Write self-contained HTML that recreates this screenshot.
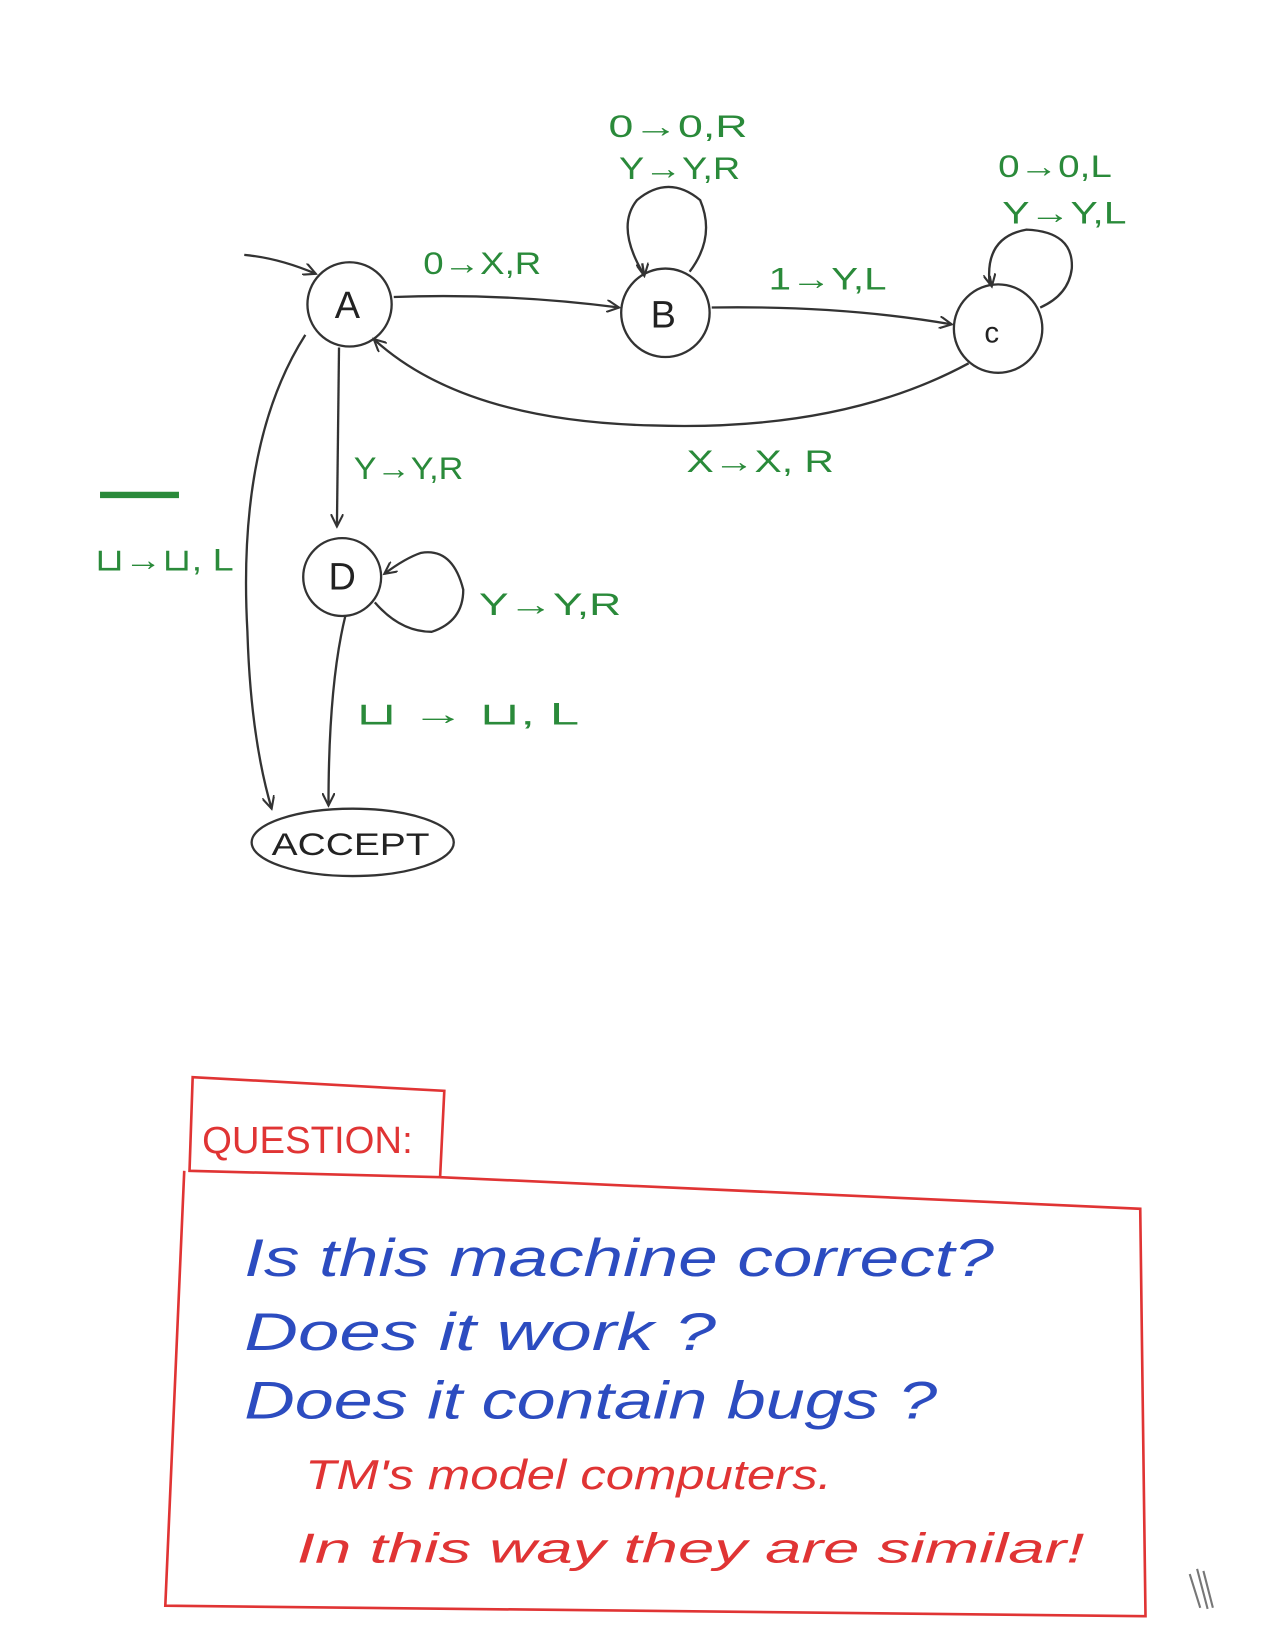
<!DOCTYPE html>
<html><head><meta charset="utf-8"><style>
html,body{margin:0;padding:0;background:#fff;}
svg{display:block;}
text{font-family:"Liberation Sans",sans-serif;}
.g{fill:#2a8a3a;font-size:30px;}
.b{fill:#2c4cc0;font-size:50px;font-style:italic;}
.r{fill:#e03434;font-size:40px;font-style:italic;}
.s{fill:#222;font-size:36px;}
</style></head><body>
<svg width="1275" height="1650" viewBox="0 0 1211 1567" xmlns="http://www.w3.org/2000/svg">
<defs><marker id="ar" markerWidth="14" markerHeight="12" refX="12" refY="6" orient="auto" markerUnits="userSpaceOnUse"><path d="M0,0 L12,6 L0,12" fill="none" stroke="#333" stroke-width="2"/></marker></defs>
<g fill="none" stroke="#333" stroke-width="2.2">
<circle cx="332" cy="289" r="40"/>
<circle cx="632" cy="297" r="42"/>
<circle cx="948" cy="312" r="42"/>
<circle cx="325" cy="548" r="37"/>
<ellipse cx="335" cy="800" rx="96" ry="32"/>
<path d="M232,242 Q265,245 300,260" marker-end="url(#ar)"/>
<path d="M374,282 Q480,278 588,292" marker-end="url(#ar)"/>
<path d="M676,292 Q800,290 904,308" marker-end="url(#ar)"/>
<path d="M920,345 Q800,410 620,404 Q440,400 355,322" marker-end="url(#ar)"/>
<path d="M322,330 L320,500" marker-end="url(#ar)"/>
<path d="M290,318 Q225,420 235,600 Q238,700 258,768" marker-end="url(#ar)"/>
<path d="M328,585 Q312,650 312,765" marker-end="url(#ar)"/>
<path d="M610,258 Q585,215 605,190 Q635,165 665,190 Q680,225 655,258"/>
<path d="M610,250 L612,262" marker-end="url(#ar)"/>
<path d="M940,270 Q935,225 975,218 Q1020,220 1018,255 Q1015,280 988,292"/>
<path d="M940,262 L942,272" marker-end="url(#ar)"/>
<path d="M356,572 Q380,600 410,600 Q440,590 440,560 Q430,520 400,525 Q385,530 365,545" marker-end="url(#ar)"/>
</g>
<text x="318" y="302" class="s">A</text>
<text x="618" y="311" class="s">B</text>
<text x="935" y="325" font-size="28" fill="#222">c</text>
<text x="312" y="560" class="s">D</text>
<g lengthAdjust="spacingAndGlyphs">
<text x="402" y="260" class="g" textLength="112" lengthAdjust="spacingAndGlyphs">0→X,R</text>
<text x="578" y="130" class="g" textLength="132" lengthAdjust="spacingAndGlyphs">0→0,R</text>
<text x="588" y="170" class="g" textLength="115" lengthAdjust="spacingAndGlyphs">Y→Y,R</text>
<text x="730" y="275" class="g" textLength="112" lengthAdjust="spacingAndGlyphs">1→Y,L</text>
<text x="948" y="168" class="g" textLength="108" lengthAdjust="spacingAndGlyphs">0→0,L</text>
<text x="952" y="212" class="g" textLength="118" lengthAdjust="spacingAndGlyphs">Y→Y,L</text>
<text x="652" y="448" class="g" textLength="140" lengthAdjust="spacingAndGlyphs">X→X, R</text>
<text x="336" y="455" class="g" textLength="104" lengthAdjust="spacingAndGlyphs">Y→Y,R</text>
<text x="455" y="584" class="g" textLength="135" lengthAdjust="spacingAndGlyphs">Y→Y,R</text>
<text x="338" y="688" class="g" textLength="212" lengthAdjust="spacingAndGlyphs">⊔ → ⊔, L</text>
<text x="90" y="542" class="g" font-size="26" textLength="132" lengthAdjust="spacingAndGlyphs">⊔→⊔, L</text>
<text x="258" y="812" font-size="30" fill="#222" textLength="150" lengthAdjust="spacingAndGlyphs">ACCEPT</text>
<text x="192" y="1095" fill="#e03434" font-size="36" textLength="200" lengthAdjust="spacingAndGlyphs">QUESTION:</text>
<text x="232" y="1212" class="b" textLength="712" lengthAdjust="spacingAndGlyphs">Is this machine correct?</text>
<text x="232" y="1282" class="b" textLength="448" lengthAdjust="spacingAndGlyphs">Does it work ?</text>
<text x="232" y="1347" class="b" textLength="658" lengthAdjust="spacingAndGlyphs">Does it contain bugs ?</text>
<text x="290" y="1414" class="r" textLength="500" lengthAdjust="spacingAndGlyphs">TM's model computers.</text>
<text x="282" y="1484" class="r" textLength="748" lengthAdjust="spacingAndGlyphs">In this way they are similar!</text>
</g>
<path d="M95,470 L170,470" stroke="#2a8a3a" stroke-width="6"/>
<g fill="none" stroke="#e03434" stroke-width="2.5">
<path d="M183,1023 L422,1036 L418,1118 L180,1112 Z"/>
<path d="M418,1118 L1083,1148 L1088,1535 L157,1525 L175,1112"/>
</g>
<path d="M1130,1495 L1140,1527 M1137,1490 L1147,1528 M1143,1492 L1152,1527" stroke="#777" stroke-width="2"/>
</svg>
</body></html>
